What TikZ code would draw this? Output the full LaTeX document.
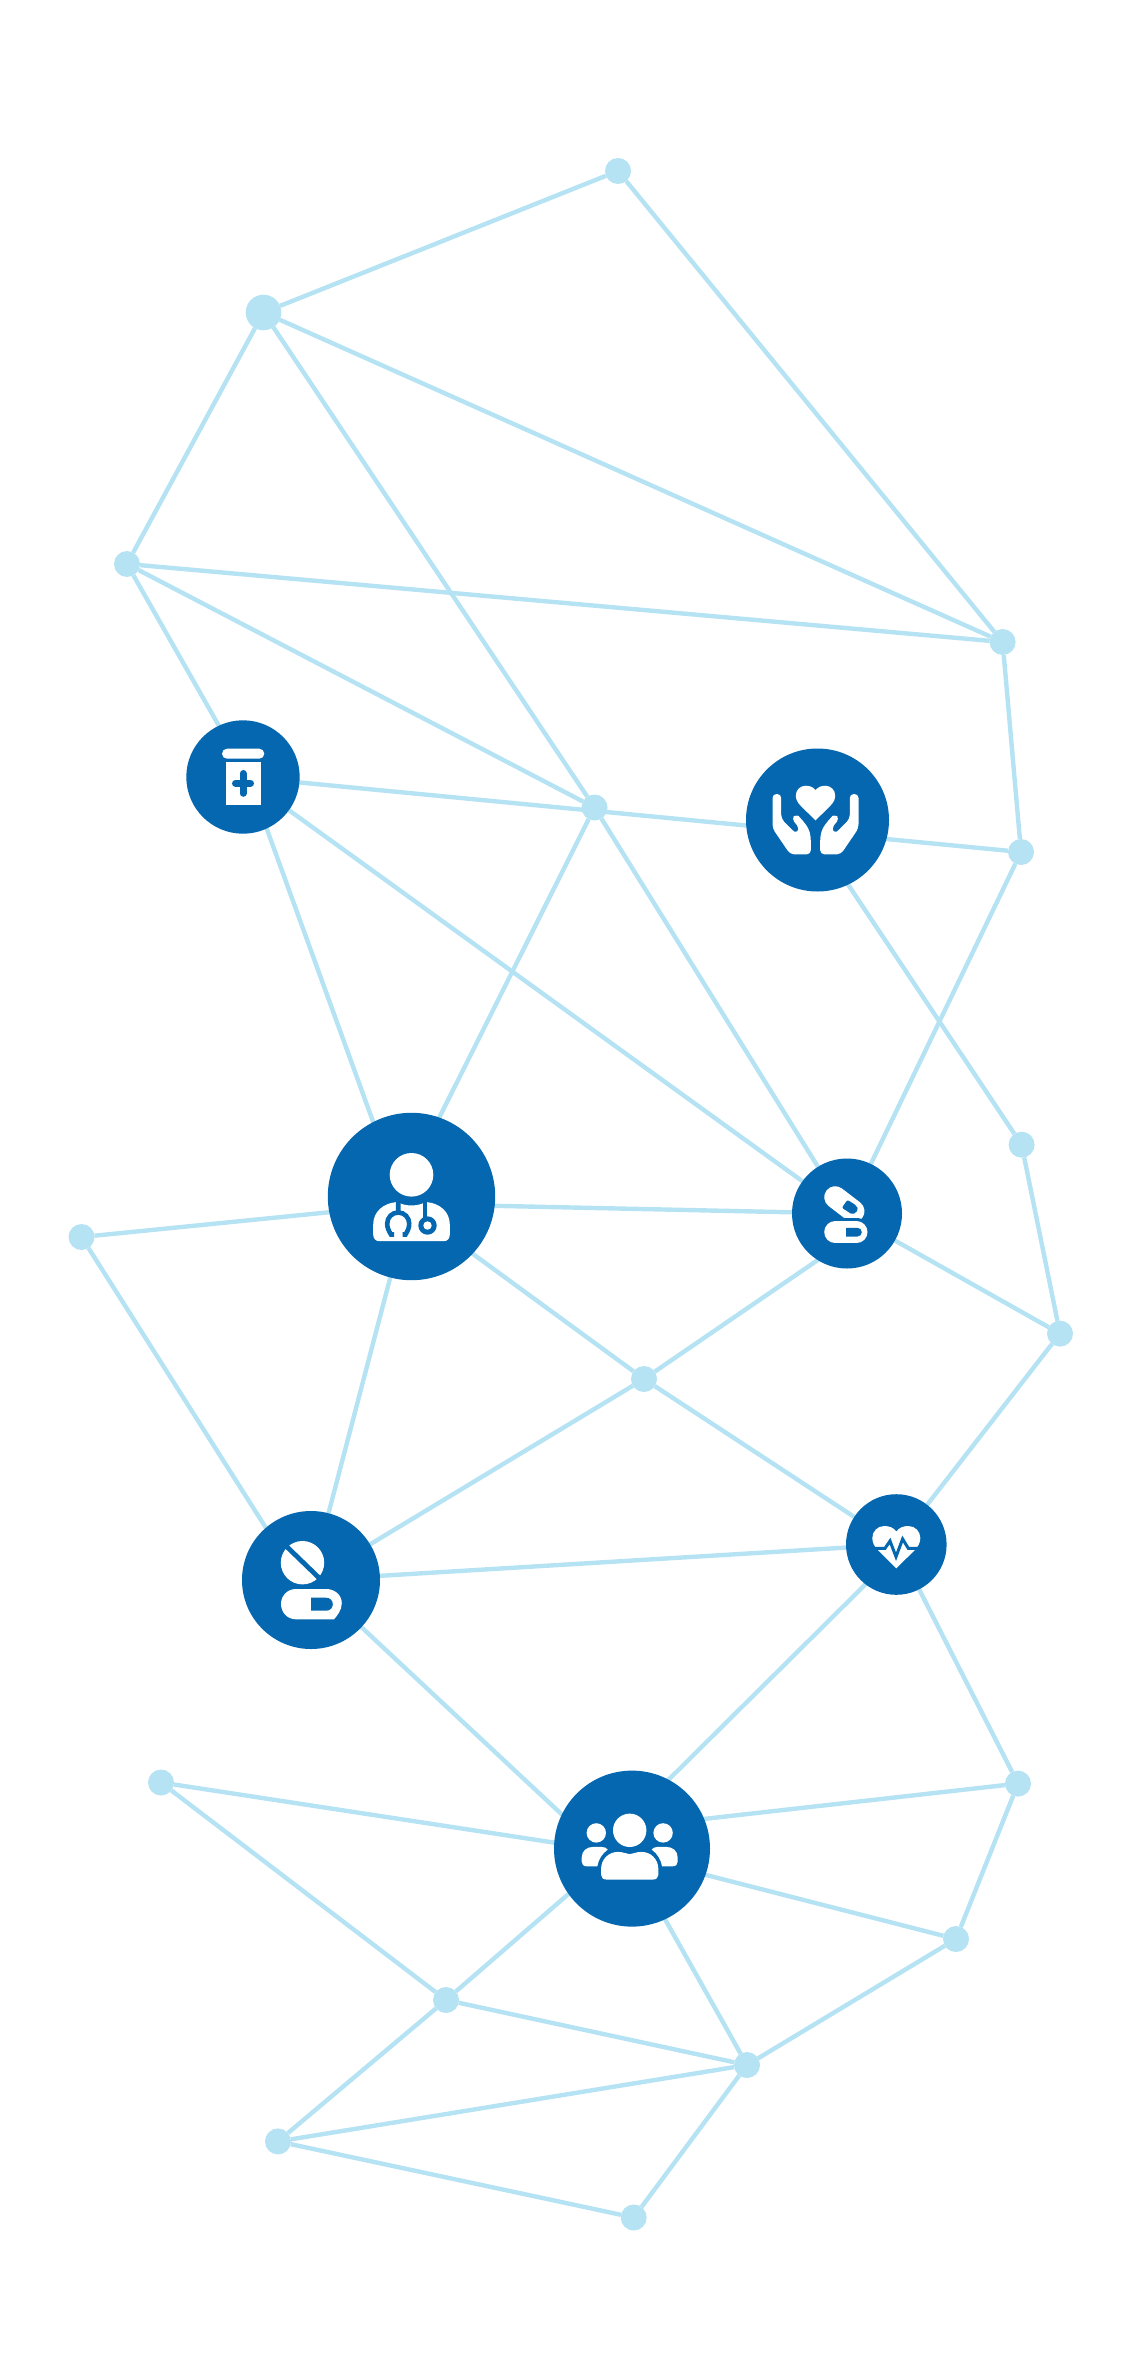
\documentclass[tikz,border=0pt]{standalone}
\usepackage{tikz}
\usetikzlibrary{backgrounds}
\definecolor{hubblue}{HTML}{0467AF}
\definecolor{linkblue}{HTML}{B5E3F3}
\newcommand{\heartshape}{(0,-13) .. controls (-3,-17) and (-7,-18.5) .. (-12,-18.5)
  .. controls (-19,-18.5) and (-24,-13) .. (-24,-6.5)
  .. controls (-24,-2) and (-22,2) .. (-18,6) -- (0,23.8) -- (18,6)
  .. controls (22,2) and (24,-2) .. (24,-6.5)
  .. controls (24,-13) and (19,-18.5) .. (12,-18.5)
  .. controls (7,-18.5) and (3,-17) .. (0,-13) -- cycle}
\newcommand{\handshape}{(-43,-26) -- (-43,8.3) -- (-25.3,34.3) -- (-4.7,34.3) --
  (-4.7,16.7) -- (-7,8) -- (-15.3,-2.5) -- (-19.3,-6) -- (-24,-1.5) -- (-16,8.3) --
  (-18.7,13.3) -- (-21.3,12) -- (-34.3,-1.3) -- (-34.3,-26) -- cycle}
\tikzset{
  hub/.style={circle,fill=hubblue,inner sep=0pt,outer sep=0pt,minimum size=#1},
  dot/.style={circle,fill=linkblue,inner sep=0pt,outer sep=0pt,minimum size=#1},
  dot/.default=13pt,
  link/.style={draw=linkblue,line width=2.2pt},
  capsule/.style={line width=11pt,line cap=round}
}

\begin{document}
\begin{tikzpicture}[x=.5pt,y=-.5pt]
\useasboundingbox (0,0) rectangle (1144,2364);
\node[hub=56.7pt] (bottle) at (243,777) {};
\node[hub=71.5pt] (hands) at (817.5,820) {};
\node[hub=83.7pt] (doctor) at (411.5,1196.5) {};
\node[hub=55pt] (pills) at (847,1213.5) {};
\node[hub=69pt] (tablet) at (311,1580) {};
\node[hub=50.3pt] (pulse) at (896.3,1544.5) {};
\node[hub=78pt] (people) at (632,1848.6) {};
\node[dot] (top) at (618,171) {};
\node[dot=17.8pt] (upleft) at (263.5,312.5) {};
\node[dot] (left) at (127,564) {};
\node[dot] (upright) at (1002.6,642) {};
\node[dot] (mid) at (594.5,807.5) {};
\node[dot] (right) at (1021,852) {};
\node[dot] (sideright) at (1021.6,1144.7) {};
\node[dot] (farright) at (1060,1333.6) {};
\node[dot] (centre) at (644,1379) {};
\node[dot] (farleft) at (81.5,1237) {};
\node[dot] (lowleft) at (161,1782.5) {};
\node[dot] (lowright) at (1018,1783.6) {};
\node[dot] (below) at (956,1939) {};
\node[dot] (inner) at (446,2000) {};
\node[dot] (junction) at (747,2065) {};
\node[dot] (corner) at (278,2141.4) {};
\node[dot] (bottom) at (633.7,2217.5) {};
\coordinate (bottleside) at (248,777);
\coordinate (handsside) at (805,820);
\coordinate (doctorup) at (400,1196);
\coordinate (doctormid) at (411.5,1204);
\coordinate (doctorlow) at (411.5,1209);
\coordinate (pillslow) at (847,1240);
\coordinate (tabletside) at (299,1580);
\coordinate (pulselow) at (896,1554);
\coordinate (peoplea) at (632,1816);
\coordinate (peopleb) at (632,1880);
\coordinate (peoplec) at (632,1854.5);
\coordinate (peopled) at (632,1827);
\coordinate (peoplee) at (632,1856);
\coordinate (peoplef) at (632,1839);
\coordinate (peopleg) at (625,1848);
\begin{pgfonlayer}{background}
\foreach \a/\b in {top/upleft,top/upright,upleft/left,upleft/upright,upleft/mid,
  left/upright,left/mid,left/bottleside,bottle/right,bottleside/doctorup,bottle/pills,
  mid/doctorup,mid/pills,upright/right,handsside/sideright,
  right/pills,sideright/farright,pills/farright,doctormid/pills,doctormid/farleft,
  doctorlow/centre,doctor/tablet,farleft/tabletside,centre/pillslow,centre/tablet,
  centre/pulse,tablet/pulse,tablet/peopleb,pulse/farright,pulselow/peoplea,
  pulse/lowright,peopled/lowright,peoplee/below,lowright/below,peopleg/junction,
  peoplef/inner,peoplec/lowleft,lowleft/inner,inner/junction,inner/corner,
  corner/junction,corner/bottom,bottom/junction,junction/below}
  \draw[link] (\a) -- (\b);
\end{pgfonlayer}

\begin{scope}[shift={(bottle)}]
\fill[white,rounded corners=2.5pt] (-21,-28.3) rectangle (21.3,-18.3);
\fill[white] (-17.3,-14.7) rectangle (18,27.7);
\draw[hubblue,line width=3.5pt,line cap=round] (-7.5,6.3) -- (7.5,6.3) (0,-3.5) -- (0,16.3);
\end{scope}

\begin{scope}[shift={(hands)},xshift=-1pt]
\fill[white,rounded corners=2pt] \handshape;
\begin{scope}[xscale=-1]
\fill[white,rounded corners=2pt] \handshape;
\end{scope}
\begin{scope}[shift={(0,-19.1)},scale=.82]
\fill[white] \heartshape;
\end{scope}
\end{scope}

\begin{scope}[shift={(doctor)}]
\fill[white] (0,-21.7) circle (21.8);
\fill[white] (-32,44.7) .. controls (-36,44.7) and (-38.3,42) .. (-38.3,38) -- (-38.3,28)
  .. controls (-38.3,15) and (-28,7) .. (-16,5.7) -- (-13,5.7)
  .. controls (-8,10) and (8,10) .. (13,5.7) -- (16,5.7)
  .. controls (28,7) and (38.3,15) .. (38.3,28) -- (38.3,38)
  .. controls (38.3,42) and (36,44.7) .. (32,44.7) -- cycle;
\draw[hubblue,line width=2.3pt] (-13.3,4) -- (-13.3,16)
  (-17.5,38) -- (-20.5,38) .. controls (-23,34) and (-24.3,31) .. (-24.3,27)
  .. controls (-24.3,21) and (-19.5,16) .. (-13.3,16)
  .. controls (-7,16) and (-2.3,21) .. (-2.3,27)
  .. controls (-2.3,31) and (-3.5,34) .. (-6,38) -- (-9,38);
\draw[hubblue,line width=2.3pt] (13.3,4) -- (13.3,22);
\fill[hubblue] (16,29) circle (9.2);
\fill[white] (16,29) circle (4.2);
\end{scope}

\begin{scope}[shift={(pills)}]
\draw[white,capsule] (-11.8,-16.3) -- (6.5,-2.3);
\fill[hubblue,rounded corners=1pt] (0.5,-13.7) -- (-5.2,-5.7) -- (5.8,1.3) -- (11.5,-3.7) -- (9.2,-8) -- cycle;
\draw[hubblue,line cap=round,line width=14pt] (-11.8,18.7) -- (9.5,18.7);
\draw[white,capsule] (-11.8,18.7) -- (9.5,18.7);
\fill[hubblue] (-0.8,14.3) -- (10.5,14.3) .. controls (13,14.3) and (14.8,16.3) .. (14.8,18.7)
  .. controls (14.8,21) and (13,23) .. (10.5,23) -- (-0.8,23) -- cycle;
\end{scope}

\begin{scope}[shift={(tablet)}]
\fill[white] (-8.5,-17.3) circle (21.7);
\draw[hubblue,line width=2.4pt] (-24.2,-33.3) -- (8.5,-1.7);
\fill[white] (-15,9) -- (15,9) .. controls (24,9) and (30.8,15) .. (30.8,23.3)
  .. controls (30.8,30) and (26,36) .. (23,39.3) -- (-15,39.3)
  .. controls (-24,39.3) and (-30,32) .. (-30,24)
  .. controls (-30,16) and (-24,9) .. (-15,9) -- cycle;
\fill[hubblue] (0.2,17.7) -- (15,17.7) .. controls (19,17.7) and (21.8,20.5) .. (21.8,24.2)
  .. controls (21.8,28) and (19,30.7) .. (15,30.7) -- (0.2,30.7) -- cycle;
\end{scope}

\begin{scope}[shift={(pulse)}]
\fill[white] \heartshape;
\draw[hubblue,line width=1.5pt] (-30,3.8) -- (-11.3,3.8) -- (-6.3,-3.5) -- (-0.3,12.2)
  -- (6.3,-5.5) -- (12,3.8) -- (30,3.8);
\end{scope}

\begin{scope}[shift={(people)}]
\fill[white] (-2.3,-18.3) circle (16.7);
\fill[white] (-35.7,-15.7) circle (9.7);
\fill[white] (31.1,-15.7) circle (9.7);
\fill[white] (-25,31) .. controls (-29,31) and (-31,29) .. (-31,26) -- (-31,21)
  .. controls (-31,10) and (-23,3.3) .. (-14,3.3)
  .. controls (-8,3.3) and (-6,5.5) .. (-2.3,5.5)
  .. controls (1.4,5.5) and (3.4,3.3) .. (9.4,3.3)
  .. controls (18.4,3.3) and (26.4,10) .. (26.4,21) -- (26.4,26)
  .. controls (26.4,29) and (24.4,31) .. (20.4,31) -- cycle;
\fill[white] (-45,17.7) .. controls (-48.5,17.7) and (-50.3,16) .. (-50.3,13) -- (-50.3,9)
  .. controls (-50.3,2) and (-45,-1.7) .. (-39,-1.7) -- (-30,-1.7)
  .. controls (-27,-1.7) and (-25.5,-0.5) .. (-24.3,1)
  .. controls (-30,5) and (-33.5,11) .. (-34.7,17.7) -- cycle;
\begin{scope}[shift={(-4.6,0)},xscale=-1]
\fill[white] (-45,17.7) .. controls (-48.5,17.7) and (-50.3,16) .. (-50.3,13) -- (-50.3,9)
  .. controls (-50.3,2) and (-45,-1.7) .. (-39,-1.7) -- (-30,-1.7)
  .. controls (-27,-1.7) and (-25.5,-0.5) .. (-24.3,1)
  .. controls (-30,5) and (-33.5,11) .. (-34.7,17.7) -- cycle;
\end{scope}
\end{scope}
\end{tikzpicture}
\end{document}
